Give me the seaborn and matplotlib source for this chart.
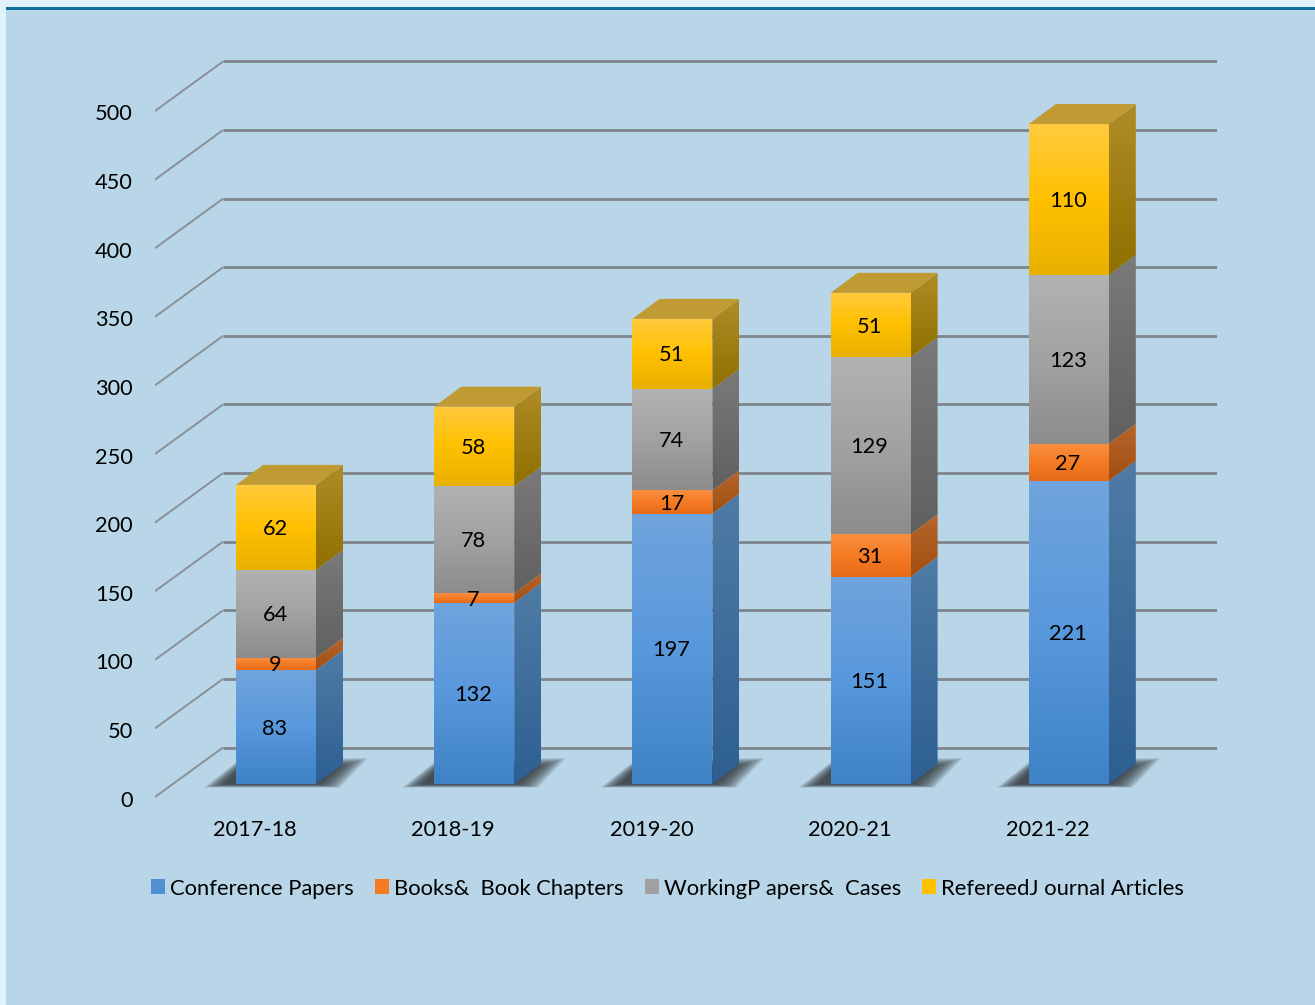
import numpy as np
import pandas as pd
import seaborn as sns
import matplotlib.pyplot as plt
from matplotlib.colors import LinearSegmentedColormap
from matplotlib.patches import Patch, Polygon, Rectangle
from matplotlib.transforms import ScaledTranslation

years = ["2017-18", "2018-19", "2019-20", "2020-21", "2021-22"]
conference = [83, 132, 197, 151, 221]
books = [9, 7, 17, 31, 27]
working = [64, 78, 74, 129, 123]
# the 2020-21 bar is drawn shorter than its printed label of 51 in the original chart
refereed = [62, 58, 51, 47, 110]
refereed_labels = [62, 58, 51, 51, 110]
series_names = ["Conference Papers", "Books&  Book Chapters", "WorkingP apers&  Cases", "RefereedJ ournal Articles"]
y_ticks = [0, 50, 100, 150, 200, 250, 300, 350, 400, 450, 500]

front_colors = [["#70A4DC", "#5898DC", "#3F82C6"],
                ["#FA8F42", "#F57B24", "#E66B18"],
                ["#B2B2B2", "#A2A2A2", "#8C8C8C"],
                ["#FFCB3E", "#FFC000", "#E9B000"]]
side_colors = [["#4F7CA6", "#2D5F92"],
               ["#B8652C", "#A04E10"],
               ["#7A7A7A", "#606060"],
               ["#B08C26", "#8F7000"]]
legend_colors = ["#5090D0", "#F57B24", "#A0A0A0", "#FFC000"]
top_color = "#C09A33"
bg = "#B8D6E7"

W, H = 1315, 1005
sns.set_style("white")
plt.rcParams["font.family"] = ["Lato", "DejaVu Sans"]

fig = plt.figure(figsize=(W / 100, H / 100), dpi=100, facecolor="#DFF1FA")
fig.add_artist(Rectangle((6 / W, 0), 1, 1 - 10 / H, transform=fig.transFigure, color=bg, lw=0, zorder=-2))
fig.add_artist(Rectangle((6 / W, 1 - 10 / H), 1, 3 / H, transform=fig.transFigure, color="#0F6E99", lw=0, zorder=-2))

# pixel layout of the plotting box
left, right, bottom, top = 155, 1217, 800, 40
ax = fig.add_axes([left / W, 1 - bottom / H, (right - left) / W, (bottom - top) / H])
ax.patch.set_alpha(0)

px_y = 1.372      # pixels per value unit
px_x = 198.2      # pixels per category
center0 = 276
base = 784
sx = 1 / px_x     # one pixel in x data units
sy = 1 / px_y     # one pixel in y data units
xlim = ((left - center0) * sx, (right - center0) * sx)
ylim = ((base - bottom) * sy, (base - top) * sy)

df = pd.DataFrame({"year": years, "a": conference, "b": books, "c": working, "d": refereed})
labels = [conference, books, working, refereed_labels]
stack = np.zeros(len(years))
rects = []
for col, colors in zip(["a", "b", "c", "d"], front_colors):
    sns.barplot(data=df, x="year", y=col, bottom=stack, color=colors[1], width=80 * sx,
                saturation=1, ax=ax, zorder=4, linewidth=0)
    rects.append(ax.containers[-1])
    stack = stack + df[col].values


def gradient(verts, colors, zorder):
    verts = np.array(verts)
    poly = Polygon(verts, closed=True, transform=ax.transData, fc="none", ec="none")
    ax.add_patch(poly)
    cmap = LinearSegmentedColormap.from_list("g", colors)
    im = ax.imshow(np.linspace(0, 1, 128).reshape(-1, 1), cmap=cmap, aspect="auto", origin="upper",
                   extent=[verts[:, 0].min(), verts[:, 0].max(), verts[:, 1].min(), verts[:, 1].max()],
                   zorder=zorder, interpolation="bilinear")
    im.set_clip_path(poly)


dx, dy = 27 * sx, 20 * sy
for s, bars in enumerate(rects):
    for i, bar in enumerate(bars):
        x0, x1 = bar.get_x(), bar.get_x() + bar.get_width()
        y0, y1 = bar.get_y(), bar.get_y() + bar.get_height()
        gradient([(x0, y0), (x1, y0), (x1, y1), (x0, y1)], front_colors[s], 5)
        gradient([(x1, y0), (x1 + dx, y0 + dy), (x1 + dx, y1 + dy), (x1, y1)], side_colors[s], 5)
        ax.text((x0 + x1) / 2 - sx, (y0 + y1) / 2 - 1.5 * sy, f"{labels[s][i]}", ha="center", va="center",
                fontsize=15.7, color="black", zorder=7)
        if s == 3:
            ax.add_patch(Polygon([(x0, y1), (x1, y1), (x1 + dx, y1 + dy), (x0 + dx, y1 + dy)],
                                 fc=top_color, ec="none", zorder=5))

# soft shadow on the floor, layered polygons give the blurred edge
for bar in rects[0]:
    x0, x1 = bar.get_x(), bar.get_x() + bar.get_width()
    for g in range(14):
        ax.add_patch(Polygon([(x0 - (32 - 1.6 * g) * sx, (-3.5 + g * 0.25) * sy),
                              (x1 + (24 - 1.6 * g) * sx, (-3.5 + g * 0.25) * sy),
                              (x1 + (52 - 2.2 * g) * sx, (26 - g * 0.7) * sy),
                              (x0 + 3 * sx, (24 - g * 0.7) * sy)],
                             fc="#2E3236", ec="none", alpha=0.11, zorder=2))

# gridlines: short slant on the floor side, then along the back wall
back_x = (223 - center0) * sx
front_x = (155 - center0) * sx
back_y = 36.5 * sy
front_y = -13 * sy
for v in y_ticks:
    ax.plot([front_x, back_x], [v + front_y, v + back_y], color="#8A9196", lw=1.4, zorder=1,
            solid_capstyle="butt")
    ax.plot([back_x, xlim[1]], [v + back_y, v + back_y], color="#7F868B", lw=2.0, zorder=1,
            solid_capstyle="butt")

ax.set_xlim(xlim)
ax.set_ylim(ylim)
sns.despine(ax=ax, left=True, bottom=True, top=True, right=True)
ax.set_yticks(y_ticks)
ax.set_xticks(range(len(years)))
ax.set_xticklabels(years)
ax.set_xlabel("")
ax.set_ylabel("")
ax.tick_params(axis="y", length=0, pad=16, labelsize=15.7, labelcolor="black")
ax.tick_params(axis="x", length=0, pad=14.7, labelsize=15.7, labelcolor="black")
for lab in ax.get_yticklabels():
    lab.set_transform(lab.get_transform() + ScaledTranslation(0, -14.5 / 100, fig.dpi_scale_trans))
for lab in ax.get_xticklabels():
    lab.set_transform(lab.get_transform() + ScaledTranslation(-21 / 100, 0, fig.dpi_scale_trans))

handles = [Patch(color=c, lw=0) for c in legend_colors]
fig.legend(handles, series_names, loc="center left", bbox_to_anchor=(151 / W, 1 - 888.5 / H), ncol=4,
           frameon=False, fontsize=15.8, handlelength=0.65, handleheight=0.65, handletextpad=0.23,
           columnspacing=0.95, borderpad=0, borderaxespad=0, labelcolor="black")

fig.savefig("out.png", dpi=100, facecolor=fig.get_facecolor())
